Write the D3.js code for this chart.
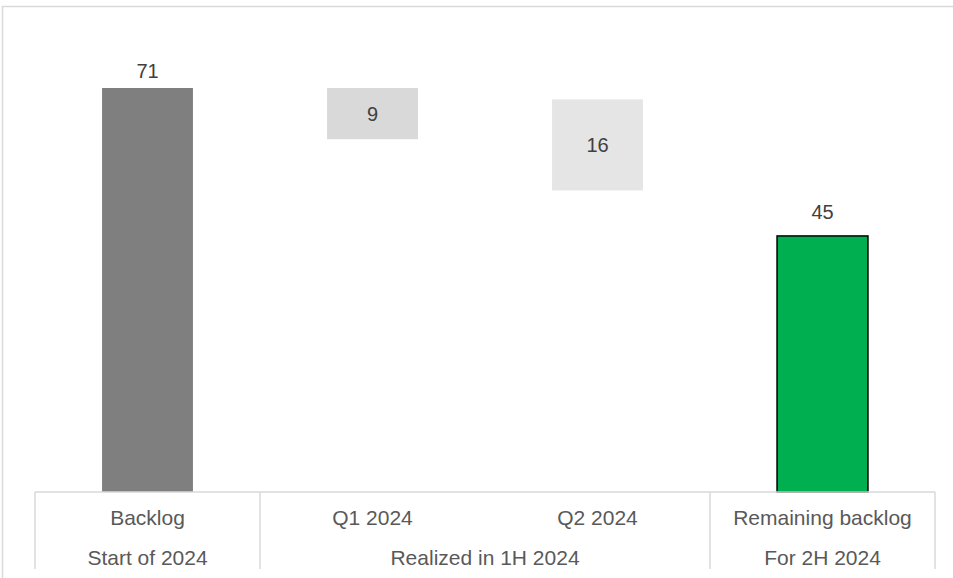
<!DOCTYPE html>
<html>
<head>
<meta charset="utf-8">
<script src="https://cdn.jsdelivr.net/npm/d3@7"></script>
<style>
  body { margin: 0; background: #fff; }
  text { font-family: "Liberation Sans", Arial, sans-serif; }
</style>
</head>
<body>
<script>
// chart data
const categories = ["Backlog", "Q1 2024", "Q2 2024", "Remaining backlog"];
const values = [71, 9, 16, 45];
const bases = [0, 62, 53, 0];
const groups = ["Start of 2024", "Realized in 1H 2024", "Realized in 1H 2024", "For 2H 2024"];
const colors = ["#7f7f7f", "#d9d9d9", "#e5e5e5", "#00b050"];

const width = 953, height = 578;
const svg = d3.select("body").append("svg")
    .attr("width", width)
    .attr("height", height);

// outer frame (top and left edges visible)
svg.append("path")
    .attr("d", "M2.5,578 V6.5 H953")
    .attr("fill", "none")
    .attr("stroke", "#d9d9d9")
    .attr("stroke-width", 1.5);

const x = d3.scaleBand()
    .domain(categories)
    .range([35, 935])
    .paddingInner(0.596)
    .paddingOuter(0.298);

const y = d3.scaleLinear()
    .domain([0, 80])
    .range([492, 492 - 80 * 404 / 71]);

const data = categories.map((c, i) => ({ cat: c, value: values[i], base: bases[i], color: colors[i] }));

svg.append("g")
    .selectAll("rect")
    .data(data)
    .enter()
    .append("rect")
    .attr("x", d => x(d.cat))
    .attr("width", x.bandwidth())
    .attr("y", d => y(d.base + d.value))
    .attr("height", d => y(d.base) - y(d.base + d.value))
    .attr("fill", d => d.color)
    .attr("stroke", (d, i) => i === 3 ? "#000" : "none")
    .attr("stroke-width", 1.5);

// value labels: above for full bars, inside for floating bars
svg.append("g")
    .selectAll("text")
    .data(data)
    .enter()
    .append("text")
    .attr("x", d => x(d.cat) + x.bandwidth() / 2)
    .attr("y", (d, i) => {
        if (d.base !== 0) return (y(d.base) + y(d.base + d.value)) / 2 + 7;
        return y(d.value) - (i === 3 ? 17 : 10);
    })
    .attr("text-anchor", "middle")
    .attr("fill", "#404040")
    .style("font-size", "20px")
    .text(d => d.value);

// table-style axis
const step = x.step();
const x0 = x.range()[0], x1 = x.range()[1];
const axis = svg.append("g")
    .attr("stroke", "#d9d9d9")
    .attr("stroke-width", 1.5);

axis.append("line")
    .attr("x1", x0).attr("x2", x1)
    .attr("y1", 492).attr("y2", 492);

// dividers between groups
const dividers = [x0];
groups.forEach((g, i) => {
    if (i === groups.length - 1 || groups[i + 1] !== g) dividers.push(x0 + step * (i + 1));
});
axis.selectAll(".div")
    .data(dividers)
    .enter()
    .append("line")
    .attr("x1", d => d).attr("x2", d => d)
    .attr("y1", 492).attr("y2", 569);

svg.append("g")
    .selectAll("text")
    .data(categories)
    .enter()
    .append("text")
    .attr("x", d => x(d) + x.bandwidth() / 2)
    .attr("y", 525)
    .attr("text-anchor", "middle")
    .attr("fill", "#595959")
    .style("font-size", "21px")
    .text(d => d);

// group labels centered over their span
const groupSpans = [];
groups.forEach((g, i) => {
    const last = groupSpans[groupSpans.length - 1];
    if (last && last.name === g) last.end = i;
    else groupSpans.push({ name: g, start: i, end: i });
});

svg.append("g")
    .selectAll("text")
    .data(groupSpans)
    .enter()
    .append("text")
    .attr("x", d => x0 + step * (d.start + d.end + 1) / 2)
    .attr("y", 565)
    .attr("text-anchor", "middle")
    .attr("fill", "#595959")
    .style("font-size", "21px")
    .text(d => d.name);
</script>
</body>
</html>
